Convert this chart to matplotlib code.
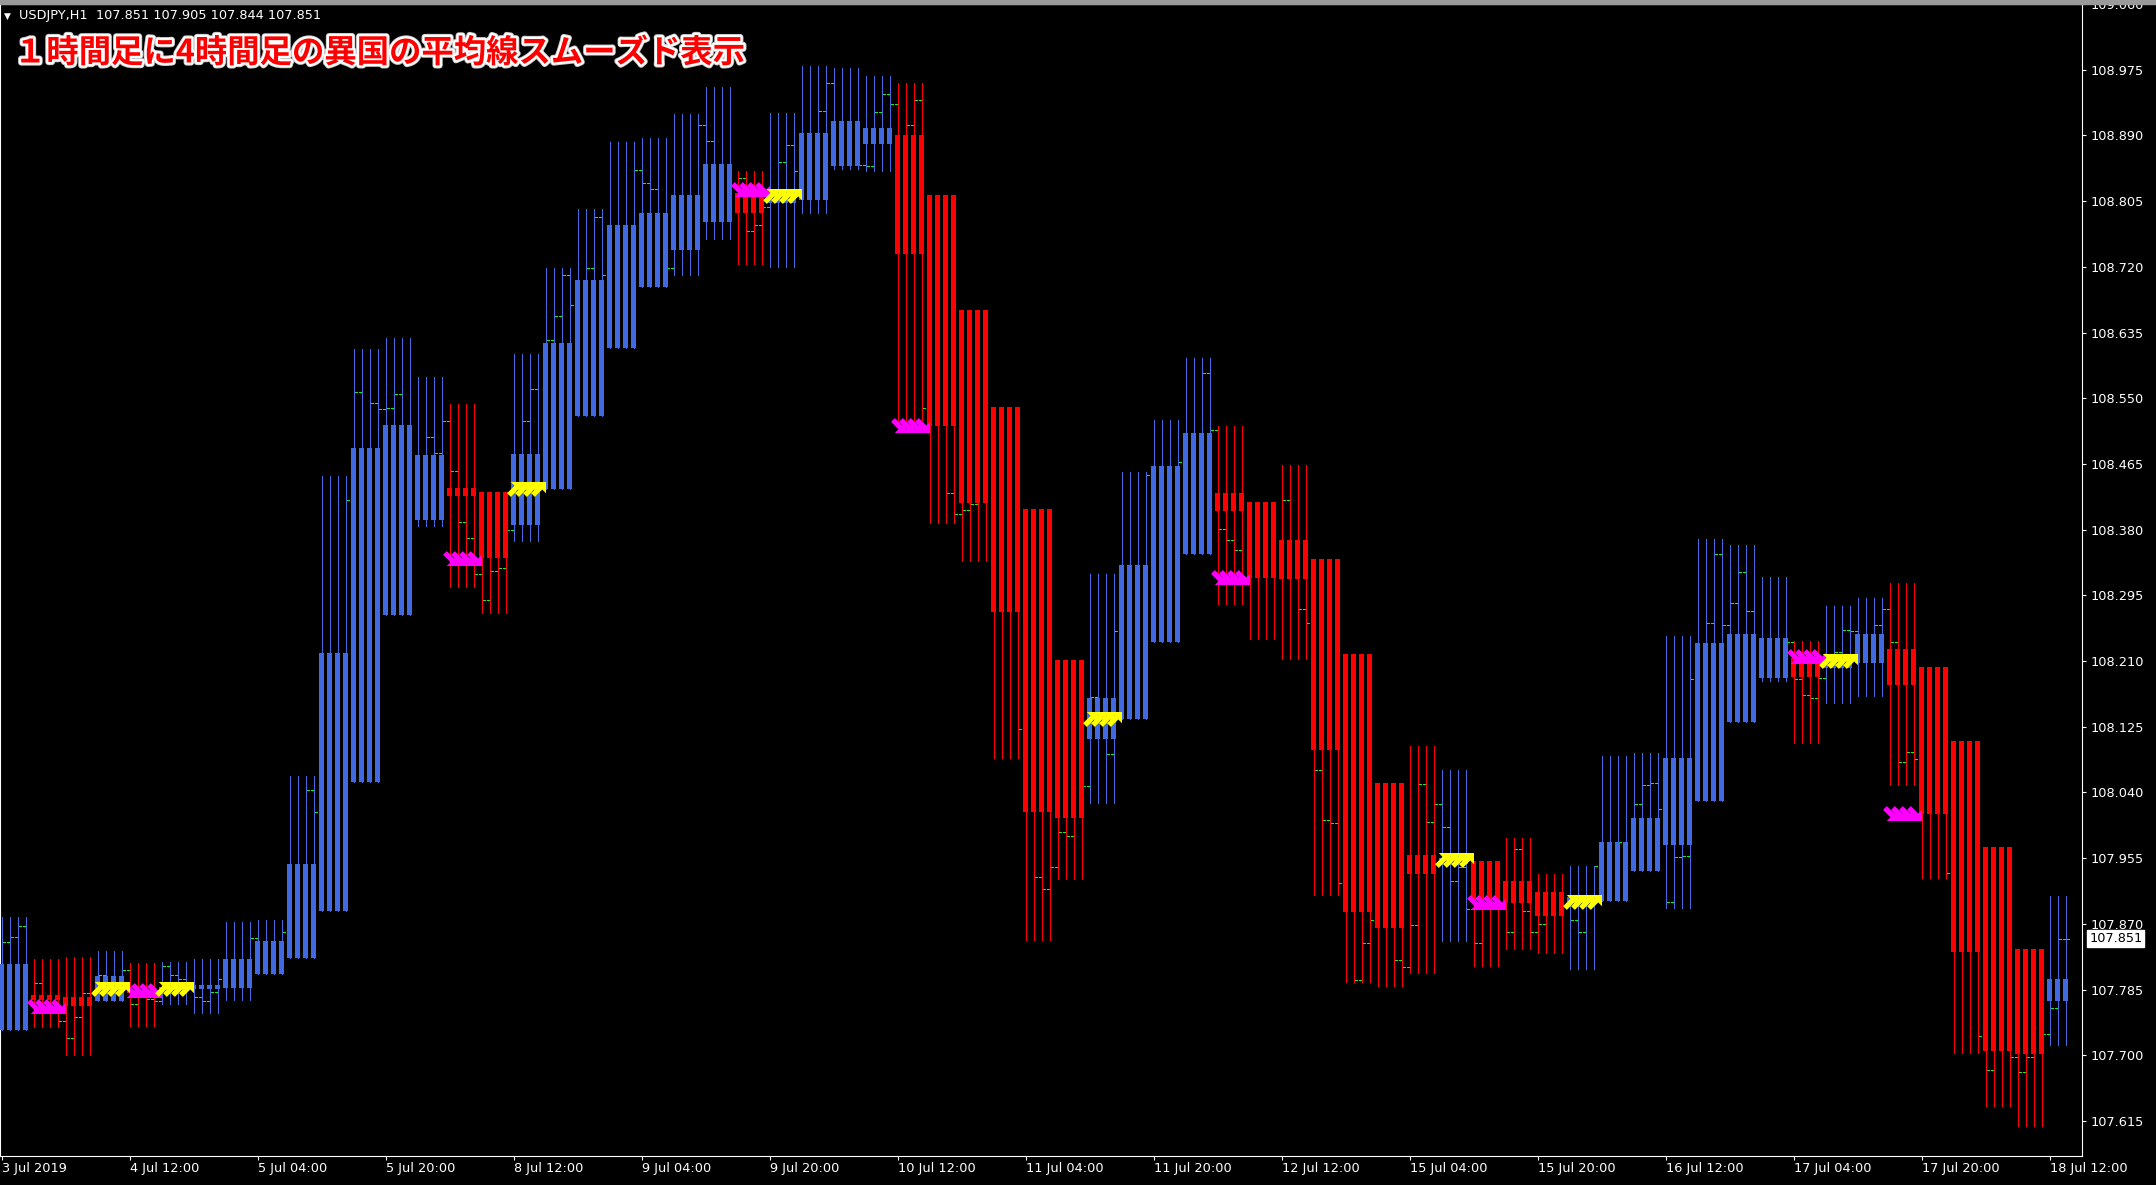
import matplotlib
matplotlib.use("Agg")
import matplotlib.pyplot as plt
import matplotlib.patheffects as pe
from matplotlib.path import Path
from matplotlib.patches import Rectangle
from matplotlib.transforms import blended_transform_factory
import numpy as np

# smoothed Heiken Ashi of the 4H bars, one value per 4-hour block (oldest first)
ha_open = [107.733, 107.778, 107.775, 107.770, 107.786, 107.7835, 107.786, 107.787,
           107.805, 107.826, 107.887, 108.053, 108.269, 108.392, 108.434, 108.429,
           108.386, 108.432, 108.527, 108.615, 108.6945, 108.742, 108.7775, 108.815,
           108.8025, 108.807, 108.850, 108.8795, 108.890, 108.8135, 108.664, 108.539,
           108.4065, 108.211, 108.109, 108.1355, 108.235, 108.3485, 108.427, 108.416,
           108.367, 108.3415, 108.2185, 108.052, 107.9585, 107.947, 107.951, 107.9255,
           107.911, 107.8955, 107.900, 107.938, 107.9725, 108.029, 108.131, 108.188,
           108.214, 108.2015, 108.207, 108.226, 108.2025, 108.107, 107.970, 107.8375,
           107.770]
ha_close = [107.818, 107.771, 107.764, 107.802, 107.781, 107.7885, 107.791, 107.824,
            107.848, 107.948, 108.220, 108.485, 108.515, 108.476, 108.424, 108.343,
            108.478, 108.622, 108.703, 108.774, 108.790, 108.813, 108.853, 108.790,
            108.812, 108.893, 108.909, 108.900, 108.737, 108.514, 108.414, 108.274,
            108.015, 108.0075, 108.162, 108.334, 108.462, 108.505, 108.4045, 108.318,
            108.316, 108.0955, 107.885, 107.865, 107.935, 107.955, 107.900, 107.897,
            107.880, 107.9045, 107.976, 108.007, 108.085, 108.233, 108.245, 108.240,
            108.189, 108.2125, 108.245, 108.179, 108.012, 107.833, 107.705, 107.702,
            107.799]
ha_high = [107.879, 107.825, 107.827, 107.835, 107.819, 107.821, 107.825, 107.872,
           107.875, 108.061, 108.449, 108.614, 108.628, 108.578, 108.5425, 108.429,
           108.607, 108.719, 108.795, 108.882, 108.887, 108.918, 108.953, 108.844,
           108.919, 108.980, 108.977, 108.967, 108.958, 108.8135, 108.664, 108.539,
           108.4065, 108.211, 108.3226, 108.455, 108.522, 108.6025, 108.514, 108.416,
           108.464, 108.3415, 108.2185, 108.052, 108.100, 108.069, 107.951, 107.981,
           107.935, 107.945, 108.087, 108.091, 108.242, 108.368, 108.360, 108.319,
           108.236, 108.281, 108.292, 108.311, 108.2025, 108.107, 107.970, 107.8375,
           107.906]
ha_low = [107.733, 107.737, 107.700, 107.770, 107.7385, 107.766, 107.755, 107.772,
          107.805, 107.826, 107.887, 108.053, 108.269, 108.385, 108.306, 108.272,
          108.365, 108.432, 108.527, 108.615, 108.6945, 108.709, 108.756, 108.724,
          108.720, 108.790, 108.847, 108.844, 108.522, 108.389, 108.339, 108.084,
          107.8495, 107.928, 108.026, 108.1355, 108.235, 108.3485, 108.284, 108.239,
          108.213, 107.907, 107.795, 107.789, 107.806, 107.8485, 107.815, 107.837,
          107.832, 107.812, 107.900, 107.938, 107.890, 108.029, 108.131, 108.184,
          108.104, 108.156, 108.165, 108.050, 107.929, 107.703, 107.634, 107.609,
          107.713]

n_h1 = 259  # H1 bars on screen, the last 4H block has only 3 so far

# H1 closes that show as green ticks outside the 4H bodies (bar index, close)
tick_bars = [0, 1, 2, 4, 7, 8, 9, 10, 12, 15, 16, 18, 19, 20, 21, 22, 24, 25, 26, 27,
             31, 35, 38, 39, 43, 44, 46, 47, 48, 49, 53, 54, 55, 56, 57, 58, 59, 60,
             61, 62, 63, 65, 66, 68, 69, 70, 71, 73, 74, 75, 79, 80, 81, 83, 87, 88,
             92, 93, 94, 95, 97, 98, 99, 102, 103, 107, 108, 109, 110, 111, 113, 114,
             115, 118, 119, 120, 121, 127, 129, 130, 131, 132, 133, 135, 136, 138,
             139, 143, 147, 150, 151, 152, 153, 154, 155, 160, 162, 163, 164, 165,
             166, 167, 169, 170, 171, 174, 175, 176, 177, 178, 179, 180, 181, 182,
             183, 184, 188, 189, 190, 191, 192, 196, 197, 199, 202, 204, 205, 206,
             207, 208, 209, 210, 211, 213, 214, 215, 216, 217, 218, 223, 224, 225,
             226, 227, 229, 230, 231, 234, 235, 236, 237, 238, 239, 243, 247, 248,
             251, 252, 253, 255, 256, 257, 258]
tick_closes = [107.847, 107.853, 107.867, 107.793, 107.744, 107.722, 107.750, 107.780,
               107.804, 107.8105, 107.766, 107.773, 107.770, 107.815, 107.8045, 107.799,
               107.776, 107.770, 107.782, 107.799, 107.852, 107.860, 108.0435, 108.0145,
               108.418, 108.558, 108.544, 108.536, 108.537, 108.556, 108.500, 108.4795,
               108.520, 108.4565, 108.390, 108.369, 108.322, 108.2885, 108.326, 108.331,
               108.380, 108.521, 108.562, 108.625, 108.656, 108.710, 108.670, 108.718,
               108.784, 108.709, 108.845, 108.828, 108.821, 108.718, 108.904, 108.8825,
               108.835, 108.767, 108.774, 108.798, 108.856, 108.877, 108.844, 108.922,
               108.958, 108.852, 108.851, 108.920, 108.944, 108.9305, 108.904, 108.936,
               108.537, 108.427, 108.400, 108.4056, 108.413, 108.122, 107.931, 107.9155,
               107.943, 107.989, 107.9836, 108.048, 108.164, 108.0897, 108.2487,
               108.4507, 108.468, 108.583, 108.509, 108.3814, 108.3664, 108.354,
               108.3175, 108.419, 108.2774, 108.259, 108.0696, 108.0044, 108.0002,
               107.923, 107.797, 107.8455, 107.8755, 107.8236, 107.8137, 107.869,
               108.0516, 108.0017, 108.0257, 107.995, 107.925, 107.9433, 107.889,
               107.845, 107.8598, 107.9674, 107.887, 107.8598, 107.8704, 107.875,
               107.859, 107.9445, 107.9765, 108.0247, 108.0499, 108.0521, 108.0185,
               107.8985, 107.9563, 107.958, 108.187, 108.2593, 108.348, 108.2564,
               108.2856, 108.3254, 108.2744, 108.2343, 108.1864, 108.1657, 108.1625,
               108.1875, 108.2212, 108.250, 108.2485, 108.2567, 108.2768, 108.235,
               108.0792, 108.0928, 108.083, 107.9354, 107.7247, 107.6806, 107.698,
               107.6779, 107.6974, 107.727, 107.7617, 107.8505, 107.851]

# signal arrows: block index and price level
sell_blocks = [1, 4, 14, 23, 28, 38, 46, 56, 59]
sell_levels = [107.764, 107.7845, 108.343, 108.821, 108.515, 108.319, 107.898, 108.217, 108.013]
buy_blocks = [3, 5, 16, 24, 34, 45, 49, 57]
buy_levels = [107.786, 107.786, 108.433, 108.812, 108.135, 107.953, 107.898, 108.210]

price_ticks = [109.060, 108.975, 108.890, 108.805, 108.720, 108.635, 108.550, 108.465,
               108.380, 108.295, 108.210, 108.125, 108.040, 107.955, 107.870, 107.785,
               107.700, 107.615]
time_ticks = [0, 16, 32, 48, 64, 80, 96, 112, 128, 144, 160, 176, 192, 208, 224, 240, 256]
time_labels = ["3 Jul 2019", "4 Jul 12:00", "5 Jul 04:00", "5 Jul 20:00", "8 Jul 12:00",
               "9 Jul 04:00", "9 Jul 20:00", "10 Jul 12:00", "11 Jul 04:00", "11 Jul 20:00",
               "12 Jul 12:00", "15 Jul 04:00", "15 Jul 20:00", "16 Jul 12:00",
               "17 Jul 04:00", "17 Jul 20:00", "18 Jul 12:00"]

symbol_info = "USDJPY,H1  107.851 107.905 107.844 107.851"
last_price = 107.851
title = "１時間足に4時間足の異国の平均線スムーズド表示"

BLUE = "#4169E1"
RED = "#FF0000"
PX = 1 / 8  # one pixel in bar units

W, H = 2156, 1185
fig = plt.figure(figsize=(W / 100, H / 100), dpi=100, facecolor="black")
ax = fig.add_axes([0 / W, (H - 1156) / H, 2082 / W, (1156 - 4) / H])
ax.set_facecolor("black")

# bar i sits at pixel 1.5 + 8*i
ax.set_xlim(-1.5 / 8, (2082 - 1.5) / 8)
ax.set_ylim(107.615 - 35 / 773, 107.615 + 1117 / 773)

idx = np.arange(n_h1)
blk = idx // 4
o = np.array(ha_open)[blk]
c = np.array(ha_close)[blk]
hi = np.array(ha_high)[blk]
lo = np.array(ha_low)[blk]
cols = np.where(c >= o, BLUE, RED)

# green H1 open/close ticks, drawn under the 4H bars
tb = np.array(tick_bars)
tc = np.array(tick_closes)
ax.hlines(tc, tb + PX, tb + 3 * PX, colors="#00FF00", linewidth=0.7,
          antialiased=False, zorder=1)
nxt = tb < n_h1 - 1
ax.hlines(tc[nxt], tb[nxt] + 1 - 3 * PX, tb[nxt] + 1 - PX, colors="#00FF00",
          linewidth=0.7, antialiased=False, zorder=1)

ax.vlines(idx, lo, hi, colors=cols, linewidth=0.65, antialiased=False, zorder=2)
body = np.maximum(np.abs(c - o), 1.0 / 773)
ax.bar(idx, body, bottom=np.minimum(o, c), width=5 * PX, color=cols,
       linewidth=0, antialiased=False, zorder=3)

# thick diagonal arrows (wingdings style)
down_right = [(1, -1), (1, 0.5), (0.497, -0.003), (-0.493, 0.987), (-0.987, 0.493),
              (0.003, -0.497), (-0.5, -1), (1, -1)]
up_right = [(x, -y) for x, y in down_right]
sell_marker = Path(down_right, closed=True)
buy_marker = Path(up_right, closed=True)

for b, lvl in zip(sell_blocks, sell_levels):
    xs = np.arange(4 * b, 4 * b + 4) + 0.5 * PX
    ax.scatter(xs, [lvl] * 4, marker=sell_marker, s=117, c="#FF00FF",
               linewidths=0, zorder=5)
for b, lvl in zip(buy_blocks, buy_levels):
    xs = np.arange(4 * b, 4 * b + 4) + 0.5 * PX
    ax.scatter(xs, [lvl] * 4, marker=buy_marker, s=117, c="#FFFF00",
               linewidths=0, zorder=5)

for sp in ax.spines.values():
    sp.set_color("white")
    sp.set_linewidth(0.8)

ax.yaxis.tick_right()
ax.set_yticks(price_ticks)
ax.set_yticklabels([f"{p:.3f}" for p in price_ticks])
ax.set_xticks(time_ticks)
ax.set_xticklabels(time_labels)
ax.tick_params(colors="white", labelsize=9.3, length=3, width=0.8)
ax.tick_params(axis="y", pad=3)
ax.tick_params(axis="x", pad=1.5)
for lbl in ax.get_xticklabels():
    lbl.set_horizontalalignment("left")

# current price box on the price scale
tr = blended_transform_factory(ax.transAxes, ax.transData)
ax.text(1.0035, last_price, f"{last_price:.3f}", transform=tr, color="black",
        fontsize=9.3, va="center", ha="left", zorder=10, clip_on=False,
        bbox=dict(boxstyle="square,pad=0.15", fc="white", ec="white"))

# top strip and chart header
fig.patches.append(Rectangle((0, 1 - 4 / H), 1, 4 / H, transform=fig.transFigure,
                             color="#9a9a9a", zorder=0))
fig.text(4 / W, 1 - 16 / H, "▼", color="white", fontsize=6.5, va="center", ha="left")
fig.text(19 / W, 1 - 16 / H, symbol_info, color="white", fontsize=9.3,
         va="center", ha="left")
fig.text(14 / W, 1 - 53 / H, title, color=RED, fontsize=23.3, fontweight="bold",
         family=["Noto Sans CJK JP", "DejaVu Sans"], va="center", ha="left",
         path_effects=[pe.Stroke(linewidth=4.5, foreground="#c8c8c8"),
                       pe.Stroke(linewidth=3.2, foreground="white"), pe.Normal()])

fig.savefig("out.png", dpi=100, facecolor="black")
